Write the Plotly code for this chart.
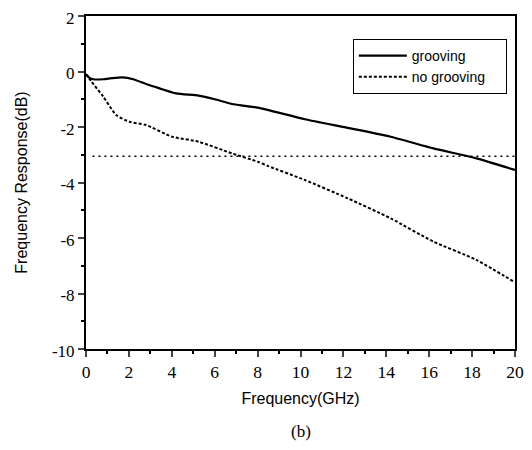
import plotly.graph_objects as go

freq_groove = [0.0, 0.15, 0.34, 0.8, 1.2, 1.7, 2.2, 2.8, 3.4, 4.2, 5.25, 6.0, 6.8, 8.0, 8.5, 10.2, 12.2, 14.2, 16.2, 18.2, 20.0]
resp_groove = [-0.1, -0.22, -0.28, -0.28, -0.24, -0.21, -0.28, -0.45, -0.6, -0.79, -0.87, -1.0, -1.17, -1.3, -1.39, -1.72, -2.03, -2.35, -2.77, -3.13, -3.55]

freq_nogroove = [0.0, 0.26, 0.8, 1.41, 2.03, 2.8, 4.02, 5.25, 6.8, 8.0, 8.5, 10.2, 12.2, 14.2, 16.2, 18.2, 20.0]
resp_nogroove = [-0.1, -0.37, -0.9, -1.57, -1.81, -1.93, -2.35, -2.53, -2.95, -3.25, -3.41, -3.91, -4.57, -5.29, -6.13, -6.79, -7.6]

ref3db_x = [0.3, 20.0]
ref3db_y = [-3.05, -3.05]

x_ticks = [0, 2, 4, 6, 8, 10, 12, 14, 16, 18, 20]
x_labels = ["0", "2", "4", "6", "8", "10", "12", "14", "16", "18", "20"]
y_ticks = [-10, -8, -6, -4, -2, 0, 2]
y_labels = ["-10", "-8", "-6", "-4", "-2", "0", "2"]

SERIF = "Liberation Serif"
SANS = "Liberation Sans"
PAD = "\u00a0" * 4

fig = go.Figure()
fig.add_trace(go.Scatter(x=freq_groove, y=resp_groove, mode="lines", name="grooving",
                         line=dict(color="black", width=2.2, shape="spline", smoothing=0.6)))
fig.add_trace(go.Scatter(x=freq_nogroove, y=resp_nogroove, mode="lines", name="no grooving" + PAD,
                         line=dict(color="black", width=2, dash="3px,2px", shape="spline", smoothing=0.6)))
fig.add_trace(go.Scatter(x=ref3db_x, y=ref3db_y, mode="lines", showlegend=False,
                         line=dict(color="black", width=1.5, dash="2px,4px")))

fig.update_layout(
    width=516, height=434,
    margin=dict(l=78, r=9, t=8, b=93),
    paper_bgcolor="white", plot_bgcolor="white",
    showlegend=True,
    legend=dict(x=0.622, y=0.931, xanchor="left", yanchor="top",
                bordercolor="black", borderwidth=1, bgcolor="white",
                font=dict(family=SANS, size=14, color="black"),
                tracegroupgap=0, itemwidth=48),
    annotations=[dict(text="(b)", x=0.5, xref="paper", y=-0.249, yref="paper",
                      showarrow=False, xanchor="center", yanchor="middle",
                      font=dict(family=SERIF, size=17, color="black"))],
)
fig.update_xaxes(range=[0, 20], tickvals=x_ticks, ticktext=x_labels, ticks="outside", ticklen=6, tickwidth=1.5,
                 automargin=False, ticklabeloverflow="allow",
                 showline=True, linecolor="black", linewidth=2, mirror=True, showgrid=False, zeroline=False,
                 minor=dict(dtick=1, ticks="outside", ticklen=3, tickcolor="black"),
                 tickfont=dict(family=SERIF, size=17.5, color="black"),
                 title=dict(text="Frequency(GHz)", standoff=12,
                            font=dict(family=SANS, size=16, color="black")))
fig.update_yaxes(range=[-10, 2], tickvals=y_ticks, ticktext=y_labels, ticks="outside", ticklen=6, tickwidth=1.5,
                 automargin=False, ticklabeloverflow="allow", ticklabelshift=2,
                 showline=True, linecolor="black", linewidth=2, mirror=True, showgrid=False, zeroline=False,
                 minor=dict(dtick=1, ticks="outside", ticklen=3, tickcolor="black"),
                 tickfont=dict(family=SERIF, size=17, color="black"),
                 title=dict(text="Frequency Response(dB)", standoff=20,
                            font=dict(family=SANS, size=16, color="black")))

fig.write_html("out.html")
